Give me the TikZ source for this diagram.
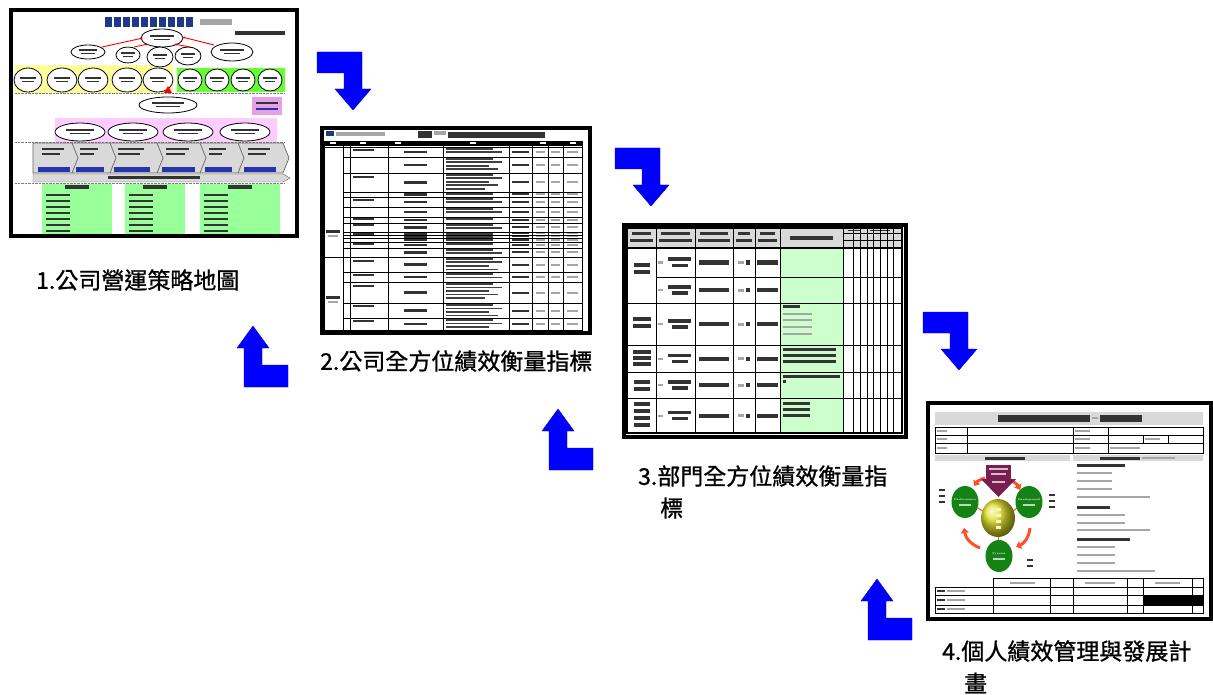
\documentclass[tikz,border=0pt]{standalone}
\usepackage{fontspec}
\newfontfamily\cjk{Noto Sans CJK TC}[FakeBold=1]
\usetikzlibrary{arrows.meta}
\definecolor{arrblue}{RGB}{0,0,255}
\definecolor{ylw}{RGB}{255,255,153}
\definecolor{grn}{RGB}{102,255,51}
\definecolor{lgrn}{RGB}{153,255,153}
\definecolor{pnk}{RGB}{255,204,255}
\definecolor{pbox}{RGB}{230,160,230}
\definecolor{pgrn}{RGB}{204,255,204}
\definecolor{gry}{RGB}{217,217,217}
\definecolor{navy}{RGB}{31,56,140}
\definecolor{barblue}{RGB}{40,50,170}
\definecolor{circgrn}{RGB}{20,130,20}
\definecolor{ycirc}{RGB}{225,225,40}
\definecolor{purp}{RGB}{120,30,80}
\definecolor{orng}{RGB}{255,80,40}
\tikzset{
  frame/.style={draw=black,line width=4pt,fill=white,inner sep=0pt},
  grid/.style={draw=black,line width=0.8pt},
  tx/.style={fill=black!80},
  txg/.style={fill=black!35},
  lbl/.style={font=\cjk\fontsize{23}{23}\selectfont,inner sep=0pt,anchor=west},
  bluearrow/.style={fill=arrblue,draw=arrblue!80!black,line width=0.4pt,line join=round},
  ell/.style={draw=black,line width=0.8pt,fill=white},
  downarr/.pic={\path[bluearrow] (0,0) -- (45,0) -- (45,37) -- (54,37) -- (36,58) -- (18,37) -- (27,37) -- (27,21) -- (0,21) -- cycle;},
  uparr/.pic={\path[bluearrow] (0,0) -- (44,0) -- (44,-22) -- (18,-22) -- (18,-39) -- (25,-39) -- (9,-61) -- (-7,-39) -- (0,-39) -- cycle;},
}
\begin{document}
\begin{tikzpicture}[x=1pt,y=-1pt]
\useasboundingbox (0,0) rectangle (1213,695);

% ================= thumbnail 1 =================
\node[frame,minimum width=286pt,minimum height=226pt] (t1) at (154,123) {};
\foreach \x in {105,114,...,186} \fill[navy] (\x,17) rectangle ({\x+7},27);
\fill[txg] (200,19) rectangle (232,25);
\fill[tx] (235,31) rectangle (285,35);
% yellow and green bands
\fill[ylw] (15,65) rectangle (173,93);
\fill[grn] (177,68) rectangle (285,92);
\draw[black!50,densely dotted] (15,93.5) -- (285,93.5);
% pink band
\fill[pnk] (55,118) rectangle (277,142);
\draw[black!50,densely dotted] (15,142.5) -- (285,142.5);
% ellipses
\foreach \cx/\cy/\rx/\ry in {162/38/21/9, 88/52/17/7, 128/55/12/8, 160/57/13/10, 188/56/13/9, 232/52/21/9,
  28/80/14/12, 62/80/15/12, 93/80/15/12, 127/80/15/12, 158/80/15/12,
  190/80/12/11, 217/80/12/11, 243/80/12/11, 270/80/12/11,
  168/105/29/8, 80/132/25/9, 133/132/25/9, 188/132/25/9, 245/132/25/9}{
  \draw[ell] (\cx,\cy) ellipse [x radius=\rx pt,y radius=\ry pt];
  \fill[tx] ({\cx-0.55*\rx},{\cy-2.5}) rectangle ({\cx+0.55*\rx},{\cy-0.8});
  \fill[tx] ({\cx-0.4*\rx},{\cy+0.8}) rectangle ({\cx+0.4*\rx},{\cy+2.5});
}
\draw[red,line width=0.9pt,-{Stealth[length=3pt]}] (102,47) -- (143,38);
\draw[red,line width=0.9pt,-{Stealth[length=3pt]}] (134,47) -- (148,44);
\draw[red,line width=0.9pt,-{Stealth[length=3pt]}] (190,47) -- (174,44);
\draw[red,line width=0.9pt,-{Stealth[length=3pt]}] (214,45) -- (182,37);
\fill[red] (164,93) -- (172,93) -- (168,86) -- cycle;
% pink box
\fill[pbox] (252,97) rectangle (282,115);
\fill[tx] (256,102) rectangle (278,104);
\fill[barblue] (256,108) rectangle (278,110);
% chevron band
\fill[gry] (33,143) rectangle (283,173);
\fill[gry] (283,143) -- (289,158) -- (283,173) -- cycle;
\foreach \x in {72,110,157,200,238} \draw[black!60,line width=0.7pt] (\x,143) -- ({\x+6},158) -- (\x,173);
\draw[black!60,line width=0.7pt] (33,143) -- (283,143) -- (289,158) -- (283,173) -- (33,173) -- cycle;
\foreach \a/\b in {38/70,76/104,114/150,162/195,205/232,244/276}{
  \fill[barblue] (\a,167) rectangle (\b,172);
  \fill[tx] ({\a+4},148) rectangle ({\b-6},150.5);
  \fill[tx] ({\a+4},153) rectangle ({\b-10},155.5);
}
\fill[gry,draw=black!60] (33,174) -- (283,174) -- (290,178) -- (283,182) -- (33,182) -- cycle;
\fill[tx] (108,176.5) rectangle (200,179.5);
\draw[black!50,densely dotted] (15,183.5) -- (285,183.5);
% green boxes
\foreach \a/\b in {42/112,125/185,200/280}{
  \fill[lgrn] (\a,184) rectangle (\b,234);
  \fill[tx] ({(\a+\b)/2-12},185) rectangle ({(\a+\b)/2+12},189);
  \foreach \y in {194,200,...,230} \fill[tx] ({\a+4},\y) rectangle ({\a+28},{\y+2.5});
}

% ================= thumbnail 2 =================
\node[frame,line width=3.5pt,minimum width=268pt,minimum height=205pt] (t2) at (456,230.5) {};
\fill[navy] (326,131) rectangle (334,136);
\fill[txg] (336,132) rectangle (385,136);
\fill[tx] (418,131) rectangle (432,138);
\fill[txg] (434,131) rectangle (446,135);
\fill[tx] (448,132) rectangle (545,138);
\fill[black] (324,141) rectangle (582,146);
\foreach \x in {330,360,395,470,540,570} \fill[white] (\x,142.5) rectangle ({\x+6},144.5);
\foreach \a/\b in {147/157,157/173,173/192,192/197,197/207,207/217,217/223,223/232,232/235,235/238,238/242,242/248,248/257,257/272,272/282,282/303,303/318,318/330}{
  \fill[tx] (404,{(\a+\b)/2-1.2}) rectangle (427,{(\a+\b)/2+1.2});
  \pgfmathtruncatemacro\nl{max(1,floor((\b-\a-1)/3.5))}
  \foreach \k in {1,...,\nl}{
    \fill[black!75] (446,{\a+1+(\k-1)*3.5}) rectangle ({506-mod(\k*13,22)},{\a+2.8+(\k-1)*3.5});
  }
  \fill[tx] (512,{(\a+\b)/2-1}) rectangle (529,{(\a+\b)/2+1});
  \fill[txg] (536,{(\a+\b)/2-1}) rectangle (545,{(\a+\b)/2+1});
  \fill[txg] (551,{(\a+\b)/2-1}) rectangle (560,{(\a+\b)/2+1});
  \fill[txg] (567,{(\a+\b)/2-1}) rectangle (578,{(\a+\b)/2+1});
}
\foreach \y in {149,176,199,218,224,233,243,260,274,285,305,320} \fill[tx] (353,\y) rectangle (374,{\y+1.6});
\fill[tx] (326,230) rectangle (340,233); \fill[txg] (328,235) rectangle (338,237);
\fill[tx] (326,296) rectangle (340,299); \fill[txg] (328,301) rectangle (338,303);
\draw[grid] (324,141) rectangle (582,330);
\foreach \x in {343,350,388,443,509,532,548,563} \draw[grid] (\x,141) -- (\x,330);
\foreach \y in {157,173,192,197,207,217,223,232,235,238,242,248,272,282,303,318} \draw[grid] (343,\y) -- (582,\y);
\draw[grid] (324,147) -- (582,147);
\draw[grid] (324,257) -- (582,257);

% ================= thumbnail 3 =================
\node[frame,line width=3.5pt,minimum width=282pt,minimum height=212pt] (t3) at (765,331) {};
\fill[gry] (627,228) rectangle (902,248);
\fill[pgrn] (780,248) rectangle (843,433);
% header texts
\foreach \a/\b in {627/656,656/695,695/733,733/755,755/780}{
  \fill[tx] ({\a+5},232) rectangle ({\b-5},235);
  \fill[tx] ({\a+3},239) rectangle ({\b-3},242);
}
\fill[tx] (790,236) rectangle (833,240);
\fill[tx] (848,230) rectangle (860,231.5); \fill[tx] (870,230) rectangle (890,231.5);
% row texts
\foreach \a/\b in {248/277,277/303,303/345,345/372,372/398,398/433}{
  \fill[txg] (658,{(\a+\b)/2-1}) rectangle (663,{(\a+\b)/2+1});
  \fill[tx] (668,{(\a+\b)/2-5}) rectangle (691,{(\a+\b)/2-1.5});
  \fill[tx] (672,{(\a+\b)/2+1}) rectangle (688,{(\a+\b)/2+4.5});
  \fill[tx] (699,{(\a+\b)/2-2}) rectangle (729,{(\a+\b)/2+2});
  \fill[txg] (738,{(\a+\b)/2-1.5}) rectangle (744,{(\a+\b)/2+1.5});
  \fill[tx] (746,{(\a+\b)/2-2}) rectangle (750,{(\a+\b)/2+2});
  \fill[tx] (757,{(\a+\b)/2-2}) rectangle (778,{(\a+\b)/2+2});
}
\foreach \y in {263,270} \fill[tx] (634,\y) rectangle (650,{\y+3.5});
\foreach \y in {317,324} \fill[tx] (633,\y) rectangle (651,{\y+3.5});
\foreach \y in {350,356,362} \fill[tx] (633,\y) rectangle (651,{\y+3.5});
\foreach \y in {380,387} \fill[tx] (634,\y) rectangle (650,{\y+3.5});
\foreach \y in {402,409,416,423} \fill[tx] (634,\y) rectangle (650,{\y+3.5});
\fill[tx] (783,305) rectangle (800,308);
\foreach \y in {313,319,326,333} \fill[txg] (783,\y) rectangle (812,{\y+2});
\foreach \y in {348,354,360} \fill[tx] (783,\y) rectangle (836,{\y+2.5});
\fill[tx] (783,375) rectangle (840,378); \fill[tx] (783,380) rectangle (786,383);
\foreach \y in {402,408,414} \fill[tx] (783,\y) rectangle (810,{\y+2.5});
% grid
\draw[grid,line width=1.2pt] (627,228) rectangle (902,433);
\foreach \x in {656,695,733,755,780,843,853,860,867,873,880,887,893} \draw[grid] (\x,228) -- (\x,433);
\foreach \y in {303,345,372,398} \draw[grid] (627,\y) -- (902,\y);
\draw[grid,line width=1.5pt] (627,248) -- (902,248);
\draw[grid] (656,277) -- (902,277);
\draw[grid] (843,233) -- (902,233);
\draw[grid] (843,240) -- (902,240);

% ================= thumbnail 4 =================
\node[frame,line width=3.5pt,minimum width=283pt,minimum height=216pt] (t4) at (1069.5,511) {};
\fill[gry] (935,412) rectangle (1203,425);
\fill[tx] (998,415) rectangle (1090,422);
\fill[txg] (1092,417) rectangle (1098,419);
\fill[tx] (1100,415) rectangle (1142,422);
% info table
\draw[grid,line width=0.6pt] (935,427) rectangle (1203,453);
\draw[grid,line width=0.6pt] (935,435) -- (1203,435);
\draw[grid,line width=0.6pt] (935,443) -- (1203,443);
\foreach \x in {967,1073,1108} \draw[grid,line width=0.6pt] (\x,427) -- (\x,453);
\foreach \x in {1143,1168} \draw[grid,line width=0.6pt] (\x,435) -- (\x,443);
\foreach \y in {431,439,448} {\fill[txg] (937,{\y-1}) rectangle (947,{\y+1}); \fill[txg] (1075,{\y-1}) rectangle (1090,{\y+1});}
\fill[txg] (1145,438) rectangle (1160,440);
\fill[txg] (1110,447) rectangle (1140,449);
% section headers
\fill[gry] (935,455) rectangle (1070,461);
\fill[gry] (1073,455) rectangle (1203,461);
\fill[tx] (985,456.5) rectangle (1025,459.5);
\fill[tx] (1100,456.5) rectangle (1140,459.5);
\fill[txg] (1142,457) rectangle (1175,459);
% diagram
\draw[orng,line width=3pt,-{Triangle[length=5pt,width=8pt]}] (985,478) to[bend right=20] (974,486);
\draw[orng,line width=3pt,-{Triangle[length=5pt,width=8pt]}] (1010,480) to[bend left=20] (1020,490);
\draw[orng,line width=3pt,-{Triangle[length=5pt,width=8pt]}] (1030,528) to[bend left=30] (1016,547);
\draw[orng,line width=3pt,-{Triangle[length=5pt,width=8pt]}] (980,548) to[bend left=30] (964,528);
\draw[orng,line width=1pt] (978,508) -- (984,512);
\draw[orng,line width=1pt] (1017,508) -- (1012,512);
\draw[orng,line width=1pt] (998,537) -- (998,541);
\fill[purp] (986,465) rectangle (1011,479);
\fill[purp] (981,479) -- (1016,479) -- (998.5,497) -- cycle;
\fill[white!70!purp] (989,468) rectangle (1008,470);
\fill[white!70!purp] (991,473) rectangle (1006,475);
\fill[white!70!purp] (992,481) rectangle (1005,483);
\shade[ball color=ycirc] (998,518) ellipse [x radius=17pt,y radius=19pt];
\foreach \y in {508,514,520,526} \fill[white!70!ycirc] (996,\y) rectangle (1001,{\y+2.5});
\foreach \cx/\cy/\w in {965/502/Performance,1029/502/Development,999/556/Process}{
  \fill[circgrn] (\cx,\cy) ellipse [x radius=13.5pt,y radius=16pt];
  \node[text=white,font=\fontsize{2.6}{3}\selectfont\bfseries,inner sep=0pt] (c\w) at (\cx,{\cy-2}) {\w};
  \fill[white!70!circgrn] ({\cx-6},{\cy+2}) rectangle ({\cx+6},{\cy+3.5});
}
\foreach \y in {489,495,501} \fill[tx] (939,\y) rectangle (945,{\y+2});
\foreach \y in {494,500,506} \fill[tx] (1049,\y) rectangle (1055,{\y+2});
\foreach \y in {559,565} \fill[tx] (1027,\y) rectangle (1033,{\y+2});
% right texts
\fill[tx] (1077,464) rectangle (1125,466.5);
\foreach \y in {472,480,488} \fill[txg] (1077,\y) rectangle (1112,{\y+2});
\fill[txg] (1077,496) rectangle (1150,498);
\fill[tx] (1077,506) rectangle (1110,508.5);
\foreach \y in {514,522} \fill[txg] (1077,\y) rectangle (1125,{\y+2});
\fill[txg] (1077,529) rectangle (1150,531);
\fill[tx] (1077,538) rectangle (1130,540.5);
\foreach \y in {546,554,562} \fill[txg] (1077,\y) rectangle (1115,{\y+2});
\fill[txg] (1077,570) rectangle (1155,572);
% bottom table
\fill[black] (1143,595) rectangle (1203,605);
\draw[grid,line width=0.6pt] (993,578) rectangle (1203,613);
\draw[grid,line width=0.6pt] (935,587) rectangle (993,613);
\foreach \y in {587,595,605} \draw[grid,line width=0.6pt] (935,\y) -- (1203,\y);
\foreach \x in {1050,1073,1127,1143,1192} \draw[grid,line width=0.6pt] (\x,578) -- (\x,613);
\foreach \a/\b in {1010/1035,1085/1115,1155/1180} \fill[txg] (\a,581.5) rectangle (\b,583.5);
\foreach \y in {591,600,609} {\fill[tx] (937,{\y-1}) rectangle (945,{\y+1}); \fill[txg] (947,{\y-1}) rectangle (965,{\y+1});}

% ================= blue arrows =================
\pic (da1) at (317,52) {downarr};
\pic (da2) at (615,148) {downarr};
\pic (da3) at (923,312) {downarr};
\pic (ua1) at (244,387) {uparr};
\pic (ua2) at (549,470) {uparr};
\pic (ua3) at (868,640) {uparr};

% ================= labels =================
\node[lbl] (l1) at (36,280) {1.公司營運策略地圖};
\node[lbl] (l2) at (320,361) {2.公司全方位績效衡量指標};
\node[lbl] (l3a) at (638,476) {3.部門全方位績效衡量指};
\node[lbl] (l3b) at (660,508) {標};
\node[lbl] (l4a) at (942,651) {4.個人績效管理與發展計};
\node[lbl] (l4b) at (964,683) {畫};
\end{tikzpicture}
\end{document}
